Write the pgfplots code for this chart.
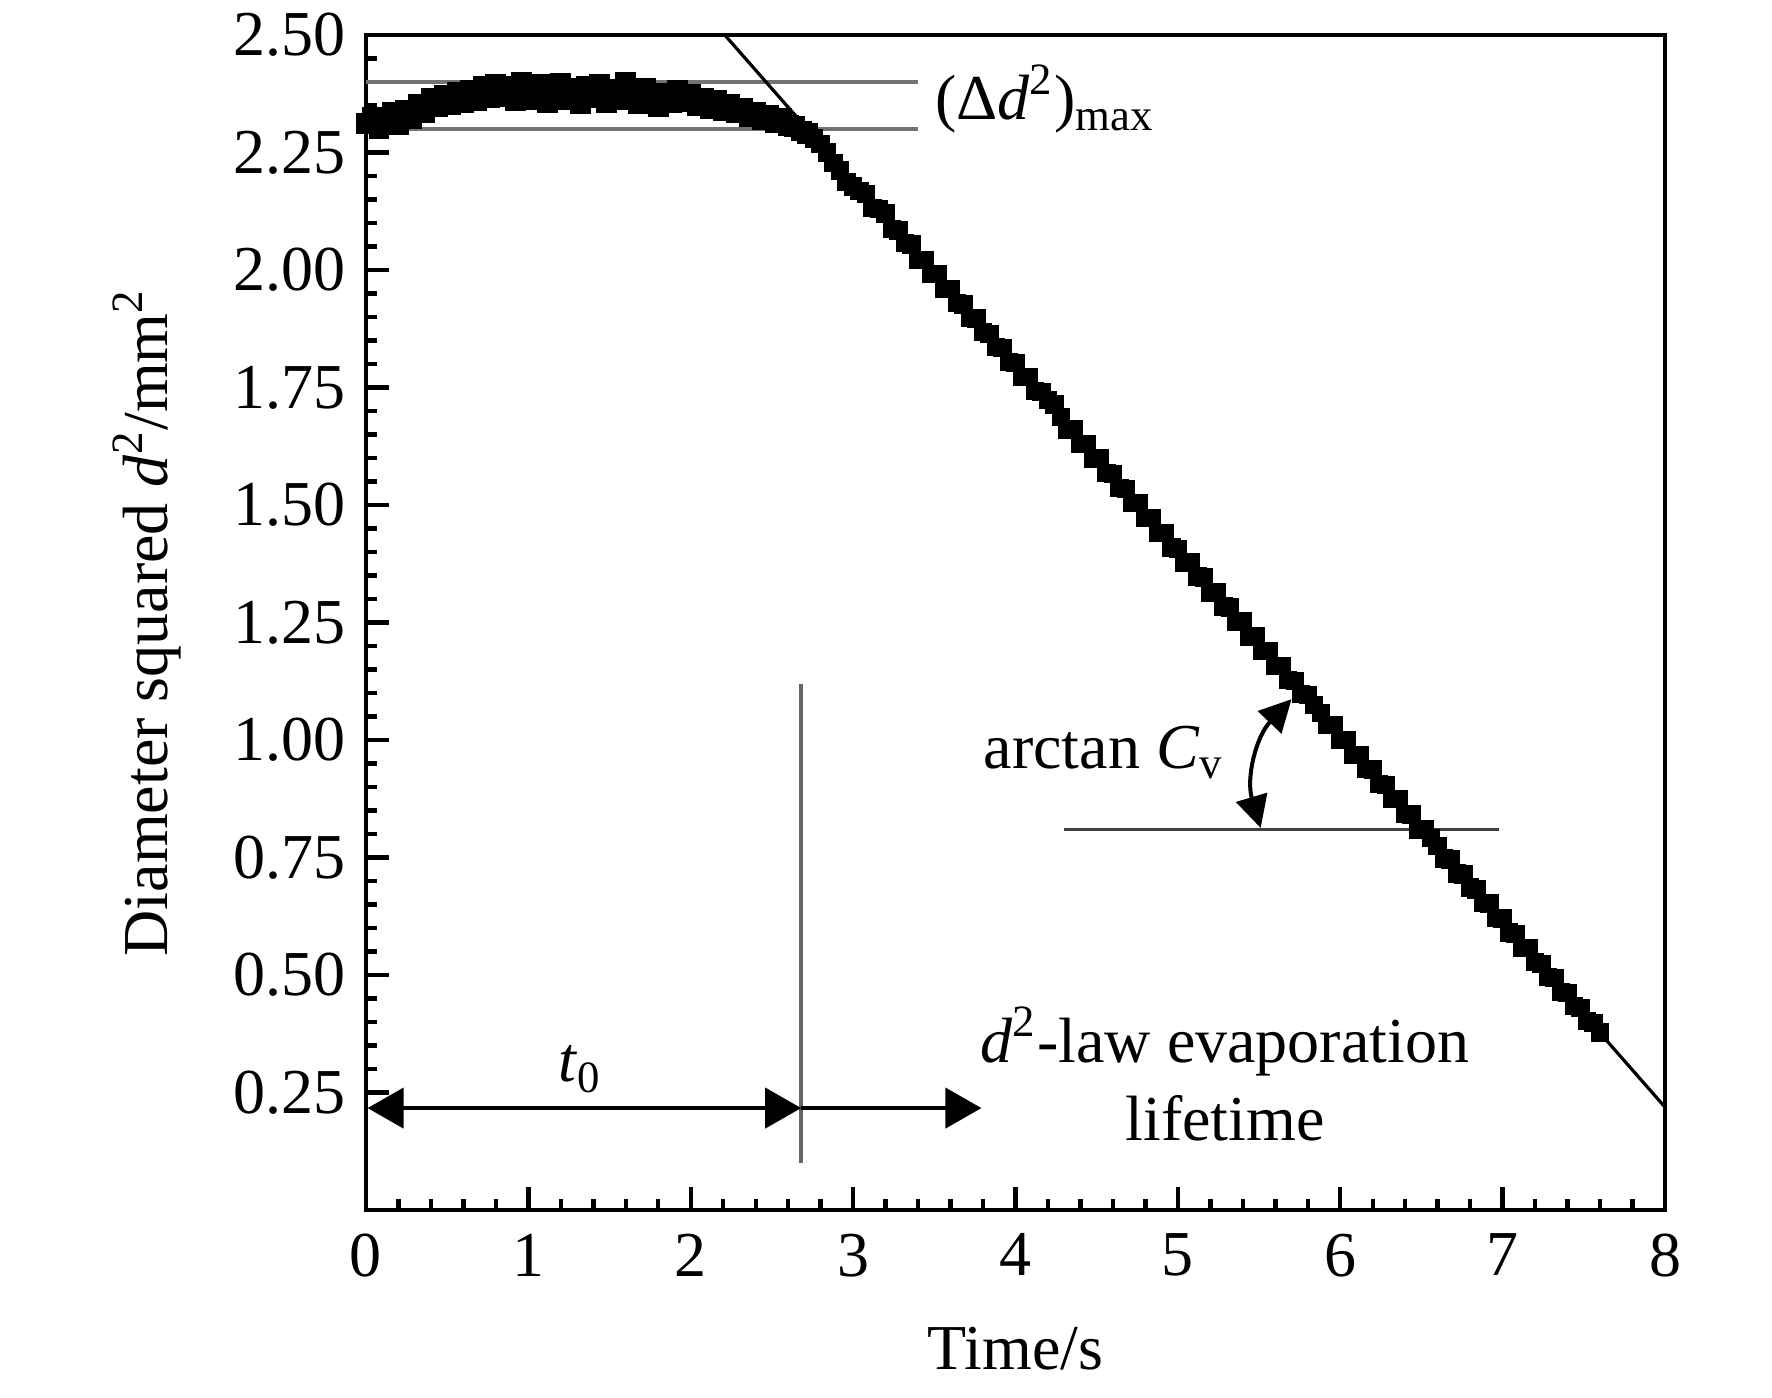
\documentclass[border=0pt]{standalone}
\usepackage{fontspec}
\setmainfont{Liberation Serif}
\usepackage{pgfplots}
\pgfplotsset{compat=1.18}
\usepackage{pgfplotstable}
\usetikzlibrary{arrows.meta}

\pgfplotstableread{
x y
0.00 2.312
0.04 2.325
0.08 2.302
0.12 2.320
0.16 2.335
0.20 2.310
0.24 2.340
0.28 2.322
0.32 2.352
0.36 2.335
0.40 2.365
0.44 2.348
0.48 2.372
0.52 2.352
0.56 2.378
0.60 2.356
0.64 2.382
0.68 2.360
0.72 2.390
0.76 2.366
0.80 2.396
0.84 2.368
0.88 2.390
0.92 2.360
0.96 2.400
1.00 2.378
1.04 2.362
1.08 2.396
1.12 2.356
1.16 2.378
1.20 2.398
1.24 2.362
1.28 2.386
1.32 2.354
1.36 2.390
1.40 2.366
1.44 2.394
1.48 2.356
1.52 2.384
1.56 2.362
1.60 2.400
1.64 2.368
1.68 2.354
1.72 2.386
1.76 2.360
1.80 2.348
1.84 2.376
1.88 2.356
1.92 2.382
1.96 2.358
2.00 2.374
2.04 2.350
2.08 2.366
2.12 2.344
2.16 2.360
2.20 2.340
2.24 2.352
2.28 2.334
2.32 2.344
2.36 2.326
2.40 2.336
2.44 2.320
2.48 2.330
2.52 2.314
2.56 2.322
2.60 2.308
2.64 2.306
2.68 2.296
2.72 2.290
}\plateau

\pgfplotstableread{
x y
2.76 2.280
2.80 2.268
2.84 2.250
2.88 2.228
2.92 2.212
2.96 2.188
3.00 2.178
3.04 2.168
3.08 2.162
3.12 2.132
3.16 2.130
3.20 2.120
3.24 2.088
3.28 2.084
3.32 2.058
3.36 2.054
3.40 2.022
3.44 2.022
3.48 1.992
3.52 1.992
3.56 1.960
3.60 1.960
3.64 1.930
3.68 1.927
3.72 1.898
3.76 1.897
3.80 1.868
3.84 1.864
3.88 1.836
3.92 1.834
3.96 1.804
4.00 1.802
4.04 1.773
4.08 1.772
4.12 1.743
4.16 1.740
4.20 1.724
4.24 1.714
4.28 1.688
4.32 1.660
4.36 1.662
4.40 1.630
4.44 1.630
4.48 1.598
4.52 1.600
4.56 1.568
4.60 1.566
4.64 1.536
4.68 1.534
4.72 1.504
4.76 1.504
4.80 1.472
4.84 1.472
4.88 1.441
4.92 1.440
4.96 1.410
5.00 1.407
5.04 1.378
5.08 1.378
5.12 1.348
5.16 1.346
5.20 1.314
5.24 1.314
5.28 1.284
5.32 1.282
5.36 1.252
5.40 1.252
5.44 1.220
5.48 1.220
5.52 1.190
5.56 1.190
5.60 1.158
5.64 1.158
5.68 1.128
5.72 1.126
5.76 1.098
5.80 1.096
5.84 1.074
5.88 1.058
5.92 1.032
5.96 1.032
6.00 1.000
6.04 1.000
6.08 0.968
6.12 0.968
6.16 0.938
6.20 0.937
6.24 0.906
6.28 0.904
6.32 0.874
6.36 0.874
6.40 0.843
6.44 0.842
6.48 0.810
6.52 0.810
6.56 0.792
6.60 0.774
6.64 0.748
6.68 0.746
6.72 0.716
6.76 0.714
6.80 0.686
6.84 0.682
6.88 0.653
6.92 0.652
6.96 0.622
7.00 0.620
7.04 0.591
7.08 0.588
7.12 0.558
7.16 0.557
7.20 0.528
7.24 0.524
7.28 0.496
7.32 0.494
7.36 0.464
7.40 0.462
7.44 0.434
7.48 0.430
7.52 0.402
7.56 0.398
7.60 0.378
}\falling

\begin{document}
\begin{tikzpicture}[font=\fontsize{16}{19.7}\selectfont]
\begin{axis}[
  at={(0,0)}, anchor=origin,
  scale only axis,
  width=324.75pt, height=293.75pt,
  xmin=0, xmax=8, ymin=0, ymax=2.5,
  xtick={0,1,...,8},
  ytick={0.25,0.5,0.75,1,1.25,1.5,1.75,2,2.25,2.5},
  minor x tick num=4,
  minor y tick num=4,
  tick align=inside,
  xtick pos=bottom, ytick pos=left,
  major tick length=5.8pt,
  minor tick length=2.8pt,
  axis line style={line width=1.2pt},
  every tick/.style={black, line width=1.1pt},
  /pgf/number format/assume math mode=true,
  yticklabel style={/pgf/number format/.cd, fixed, fixed zerofill, precision=2, /tikz/.cd, xshift=-1.7pt},
  xticklabel style={yshift=-2.4pt},
  xlabel={Time/s},
  ylabel={Diameter squared \textit{d}\textsuperscript{2}/mm\textsuperscript{2}},
  every axis x label/.style={at={([yshift=-34.75pt]axis description cs:0.5,0)}, anchor=center},
  every axis y label/.style={at={([xshift=-54.75pt]axis description cs:0,0.5)}, anchor=center, rotate=90},
]
% reference lines
\addplot[color=black!55, line width=1pt] coordinates {(0,2.40) (3.40,2.40)};
\addplot[color=black!55, line width=1pt] coordinates {(0,2.30) (3.40,2.30)};
\addplot[color=black!60, line width=0.9pt] coordinates {(2.68,0.10) (2.68,1.12)};
\addplot[color=black!75, line width=0.9pt] coordinates {(4.30,0.81) (6.98,0.81)};
% data
\addplot[only marks, mark=square*, mark size=2.4pt, black] table[x=x, y=y] {\plateau};
\addplot[only marks, mark=square*, mark size=2.1pt, black] table[x=x, y=y] {\falling};
% d2-law fit
\addplot[black, line width=0.8pt] coordinates {(2.21,2.5) (8,0.219)};
% annotations
\draw[{Triangle[length=9pt,width=10pt]}-{Triangle[length=9pt,width=10pt]}, line width=1.1pt]
  (axis cs:0.01,0.217) -- (axis cs:2.68,0.217);
\draw[-{Triangle[length=9pt,width=10pt]}, line width=1.1pt]
  (axis cs:2.68,0.217) -- (axis cs:3.79,0.217);
\draw[{Triangle[length=8pt,width=8pt]}-{Triangle[length=8pt,width=8pt]}, line width=1pt]
  (axis cs:5.70,1.087) to[bend right=30] (axis cs:5.51,0.813);
\node[anchor=base, inner sep=0pt] at (axis cs:1.32,0.273) {\textit{t}\textsubscript{0}};
\node[anchor=base, inner sep=0pt] at (axis cs:5.29,0.315) {\textit{d}\textsuperscript{2}-law evaporation};
\node[anchor=base, inner sep=0pt] at (axis cs:5.29,0.149) {lifetime};
\node[anchor=base west, inner sep=0pt] at (axis cs:3.80,0.94) {arctan \textit{C}\textsubscript{v}};
\node[anchor=base west, inner sep=0pt] at (axis cs:3.50,2.32) {(Δ\textit{d}\textsuperscript{2})\textsubscript{max}};
\end{axis}
\path[use as bounding box] (-91.5pt,-46.75pt) rectangle (351.5pt,302.25pt);
\end{tikzpicture}
\end{document}
